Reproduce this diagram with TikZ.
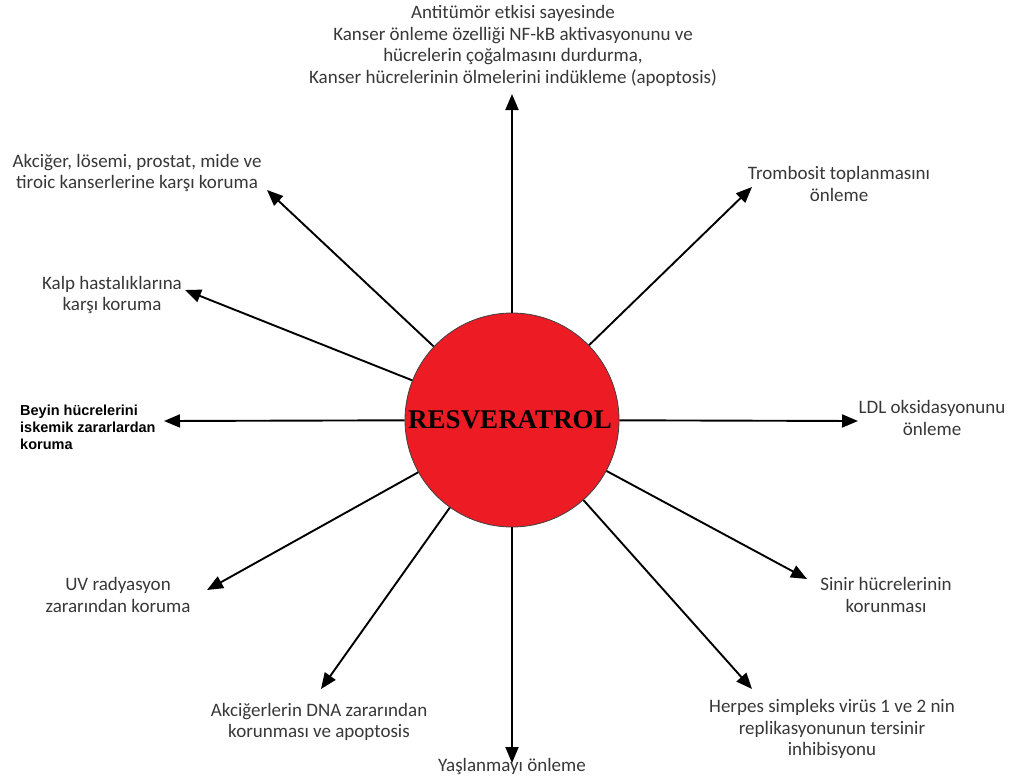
\documentclass[tikz,border=0pt]{standalone}
\usepackage{fontspec}
\setmainfont{Carlito}
\newfontfamily\arialfont{Liberation Sans}
\newfontfamily\timesfont{Liberation Serif}
\usetikzlibrary{arrows.meta, positioning}
\definecolor{resred}{RGB}{237,28,36}
\definecolor{txtgray}{RGB}{55,55,55}

\begin{document}
\begin{tikzpicture}[
			x=1pt, y=-1pt,
			every node/.style={
				align=center,
				text=txtgray,
				inner sep=0pt,
				font=\fontsize{19}{21.5}\selectfont
			},
			arrow/.style={-{Triangle[length=16pt,width=13pt]}, line width=1.9pt, color=black},
			hub/.style={circle, draw=black!75, line width=0.8pt, fill=resred, minimum size=214pt}
			]
			\useasboundingbox (0,0) rectangle (1016,776);
			
			% -------- Centre --------
			\node[hub] (res) at (512,420) {};
			\node[text=black, font=\timesfont\bfseries\fontsize{27}{30}\selectfont] (restxt) at (510,420) {RESVERATROL};
			
			% -------- Labels --------
			\node (tum) at (513,46) {Antitümör etkisi sayesinde\\Kanser önleme özelliği NF-kB aktivasyonunu ve\\hücrelerin çoğalmasını durdurma,\\Kanser hücrelerinin ölmelerini indükleme (apoptosis)};
			\node (akc) at (137,173) {Akciğer, lösemi, prostat, mide ve\\tiroic kanserlerine karşı koruma};
			\node (kalp) at (112,295) {Kalp hastalıklarına\\karşı koruma};
			\node[anchor=west, align=left, text=black, font=\arialfont\bfseries\fontsize{14.5}{17}\selectfont] (beyin) at (20,427) {Beyin hücrelerini\\iskemik zararlardan\\koruma};
			\node (uv) at (118,595) {UV radyasyon\\zararından koruma};
			\node (dna) at (319,722) {Akciğerlerin DNA zararından\\korunması ve apoptosis};
			\node (yas) at (512,766) {Yaşlanmayı önleme};
			\node (her) at (832,729) {Herpes simpleks virüs 1 ve 2 nin\\replikasyonunun tersinir\\inhibisyonu};
			\node (sin) at (886,595) {Sinir hücrelerinin\\korunması};
			\node (ldl) at (932,418) {LDL oksidasyonunu\\önleme};
			\node (tro) at (839,184) {Trombosit toplanmasını\\önleme};
			
			% -------- Arrow tips --------
			\coordinate (ttum) at (512,94);
			\coordinate (takc) at (267,190);
			\coordinate (tkalp) at (185,290);
			\coordinate (tbeyin) at (164,421);
			\coordinate (tuv) at (207,590);
			\coordinate (tdna) at (321,689);
			\coordinate (tyas) at (512,763);
			\coordinate (ther) at (752,689);
			\coordinate (tsin) at (807,579);
			\coordinate (tldl) at (858,421);
			\coordinate (ttro) at (752,187);
			
			\foreach \t in {ttum,takc,tkalp,tbeyin,tuv,tdna,tyas,ther,tsin,tldl,ttro}
				\draw[arrow] (res) -- (\t);
			
	\end{tikzpicture}
\end{document}
